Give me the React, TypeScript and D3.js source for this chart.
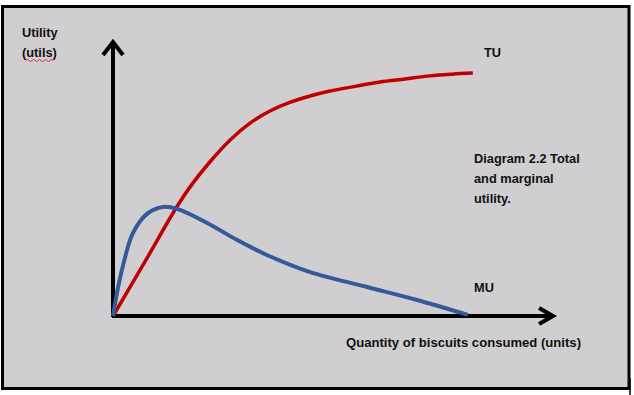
import React from 'react';
import * as d3 from 'd3';

// Quantity consumed (units) and utility (utils)
const tuQuantity = [0, 0.72, 1.4, 1.74, 2.19, 2.65, 3.1, 3.55, 4.0, 4.46, 4.91, 5.48, 6.04, 6.61, 7.17, 7.67, 8.14];
const tuUtils = [0, 19.6, 38.4, 46.7, 55.8, 63.8, 69.9, 74.3, 77.4, 79.7, 81.5, 83.2, 84.8, 85.9, 87.0, 87.6, 88.0];

const muQuantity = [0, 0.11, 0.23, 0.45, 0.77, 1.13, 1.45, 2.13, 2.81, 3.48, 4.46, 5.75, 6.88, 8.03];
const muUtils = [0, 10, 18.5, 30, 37, 39.5, 38.8, 33.7, 27.5, 22.1, 15.9, 10.5, 5.8, 0.4];

const captionLines = ['Diagram  2.2 Total', 'and marginal', 'utility.'];

const W = 634;
const H = 395;
const font = '"Liberation Sans", Arial, sans-serif';

const App: React.FC = () => {
  const x = d3.scaleLinear().domain([0, 10]).range([113, 555]);
  const y = d3.scaleLinear().domain([0, 100]).range([316, 40]);

  const line = d3
    .line<[number, number]>()
    .x(d => x(d[0]))
    .y(d => y(d[1]))
    .curve(d3.curveCatmullRom.alpha(0.5));

  const tu = tuQuantity.map((q, i) => [q, tuUtils[i]] as [number, number]);
  const mu = muQuantity.map((q, i) => [q, muUtils[i]] as [number, number]);

  const x0 = x(0);
  const y0 = y(0);
  const xEnd = x.range()[1];
  const yEnd = y.range()[1];

  return (
    <svg width={W} height={H} style={{ display: 'block', position: 'absolute', left: 0, top: 0 }}>
      <rect x={2.5} y={6.5} width={626.5} height={382} fill="#d0ced0" stroke="#000" strokeWidth={3} />
      <line x1={630} y1={378} x2={630} y2={395} stroke="#000" strokeWidth={1.5} />

      {/* axes */}
      <line x1={x0} y1={y0 + 1} x2={x0} y2={yEnd + 1} stroke="#000" strokeWidth={4} />
      <path
        d={`M${x0 - 10},${yEnd + 15}L${x0},${yEnd + 2}L${x0 + 10},${yEnd + 15}`}
        fill="none" stroke="#000" strokeWidth={4}
      />
      <line x1={x0 - 1} y1={y0} x2={xEnd - 1} y2={y0} stroke="#000" strokeWidth={4} />
      <path
        d={`M${xEnd - 16},${y0 - 8}L${xEnd - 2},${y0}L${xEnd - 16},${y0 + 8}`}
        fill="none" stroke="#000" strokeWidth={4}
      />

      {/* curves */}
      <path d={line(tu) ?? ''} fill="none" stroke="#c00000" strokeWidth={3.5} />
      <path d={line(mu) ?? ''} fill="none" stroke="#335b99" strokeWidth={4} />

      {/* labels */}
      <g fontFamily={font} fontWeight="bold" fontSize={12.8} fill="#111">
        <text x={22} y={37}>Utility</text>
        <text x={22} y={57}>(utils)</text>
        <text x={484} y={57}>TU</text>
        <text x={474} y={292}>MU</text>
        {captionLines.map((t, i) => (
          <text key={t} x={474} y={163 + i * 20}>{t}</text>
        ))}
        <text x={346} y={347} textLength={235} lengthAdjust="spacingAndGlyphs">
          Quantity of biscuits consumed (units)
        </text>
      </g>
      <path
        d="M26,60.5 q1.5,-2 3,0 t3,0 t3,0 t3,0 t3,0 t3,0 t3,0 t3,0 t3,0"
        fill="none" stroke="#e02020" strokeWidth={0.9}
      />
    </svg>
  );
};

export default App;
